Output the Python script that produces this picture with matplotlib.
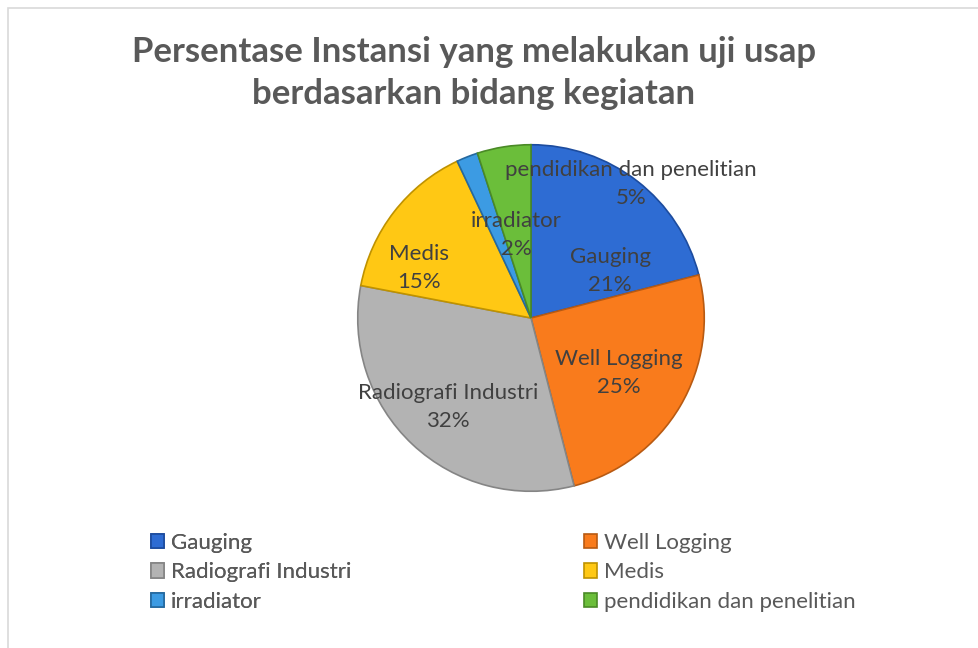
import matplotlib
matplotlib.use('Agg')
import matplotlib.pyplot as plt
from matplotlib.patches import Rectangle

plt.rcParams['font.family'] = ['Lato', 'DejaVu Sans']

# data
categories = ['Gauging', 'Well Logging', 'Radiografi Industri', 'Medis',
              'irradiator', 'pendidikan dan penelitian']
percentages = [21, 25, 32, 15, 2, 5]

colors = ['#2E6CD3', '#F97B1C', '#B3B3B3', '#FFC814', '#3C9BE3', '#6BBE3A']
edge_colors = ['#1D4C9E', '#B85A12', '#858585', '#BF9200', '#25699F', '#4A8A26']

# label anchor points (pie units, centre = 0,0) mimicking Excel best-fit
label_pos = [(0.457, 0.269), (0.509, -0.320), (-0.48, -0.514),
             (-0.646, 0.286), (-0.086, 0.480), (0.577, 0.771)]

TEXT_GRAY = '#404040'
TITLE_GRAY = '#595959'

W, H = 979, 648
fig = plt.figure(figsize=(W / 100, H / 100), dpi=100)

# chart area border like the Excel frame
fig.patches.append(Rectangle((8 / W, -0.1), 1.2, (H - 8) / H + 0.1,
                             transform=fig.transFigure, fill=False,
                             edgecolor='#D9D9D9', linewidth=1.2))

cx, cy, r = 531, 318, 175
ax = fig.add_axes([(cx - r) / W, (H - cy - r) / H, 2 * r / W, 2 * r / H])
wedges, _ = ax.pie(percentages, colors=colors, startangle=90, counterclock=False,
                   radius=1.0, wedgeprops=dict(linewidth=1.2))
for w, ec in zip(wedges, edge_colors):
    w.set_edgecolor(ec)
ax.set_xlim(-1.01, 1.01)
ax.set_ylim(-1.01, 1.01)
ax.axis('off')

for name, pct, (lx, ly) in zip(categories, percentages, label_pos):
    ax.text(lx, ly, f'{name}\n{pct}%', ha='center', va='center',
            fontsize=16, color=TEXT_GRAY, linespacing=1.5)

fig.text(474 / W, 1 - 73 / H, 'Persentase Instansi yang melakukan uji usap\nberdasarkan bidang kegiatan',
         ha='center', va='center', fontsize=25, fontweight='bold',
         color=TITLE_GRAY, linespacing=1.4)

# legend, Excel lays it out row by row
left_idx = [0, 2, 4]
right_idx = [1, 3, 5]
leg_kw = dict(frameon=False, fontsize=16, labelcolor=TITLE_GRAY,
              handlelength=0.6, handleheight=0.6, handletextpad=0.3,
              labelspacing=0.42, loc='upper left', borderaxespad=0, borderpad=0)
leg1 = fig.legend([wedges[i] for i in left_idx], [categories[i] for i in left_idx],
                  bbox_to_anchor=(151 / W, 1 - 533 / H), **leg_kw)
fig.add_artist(leg1)
fig.legend([wedges[i] for i in right_idx], [categories[i] for i in right_idx],
           bbox_to_anchor=(584 / W, 1 - 533 / H), **leg_kw)

fig.savefig('out.png', dpi=100)
